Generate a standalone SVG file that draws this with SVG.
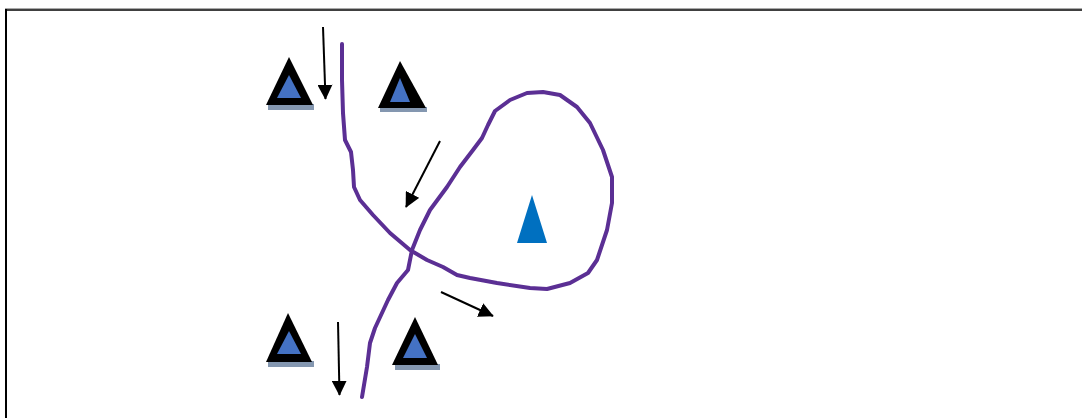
<svg xmlns="http://www.w3.org/2000/svg" width="1082" height="418" viewBox="0 0 1082 418">
<style>
.outer{fill:#000}
.inner{fill:#4472C4}
.shadow{fill:#8497B0}
.arrow{stroke:#000;stroke-width:2;fill:none}
.route{stroke:#5B2F94;stroke-width:4;fill:none;stroke-linecap:round;stroke-linejoin:round}
</style>
<defs>
<marker id="ah" viewBox="0 0 10 10" refX="9.5" refY="5" markerWidth="15" markerHeight="15" markerUnits="userSpaceOnUse" orient="auto">
<path d="M0,0 L10,5 L0,10 Z" fill="#000"/>
</marker>
</defs>
<rect width="1082" height="418" fill="#fff"/>
<g id="frame">
<line x1="5" y1="8.5" x2="1082" y2="8.5" stroke="#aaa" stroke-width="1"/>
<line x1="5" y1="10" x2="1082" y2="10" stroke="#000" stroke-width="1.6"/>
<line x1="6" y1="9" x2="6" y2="418" stroke="#000" stroke-width="2"/>
</g>
<g id="tri-top-left">
<rect class="shadow" x="268" y="104" width="46" height="6"/>
<polygon class="outer" points="289,57 266,105 313,105"/>
<polygon class="inner" points="289,75 277,98 301,98"/>
</g>
<g id="tri-top-right">
<rect class="shadow" x="380" y="107" width="47" height="5"/>
<polygon class="outer" points="400,61 378,108 426,108"/>
<polygon class="inner" points="400,78 390,102 410,102"/>
</g>
<g id="tri-bottom-left">
<rect class="shadow" x="268" y="361" width="46" height="6"/>
<polygon class="outer" points="288,313 266,362 312,362"/>
<polygon class="inner" points="289,331 277,354 301,354"/>
</g>
<g id="tri-bottom-right">
<rect class="shadow" x="395" y="364" width="45" height="6"/>
<polygon class="outer" points="415,317 392,365 438,365"/>
<polygon class="inner" points="415,334 403,358 427,358"/>
</g>
<g id="target">
<polygon points="532,195 517,243 547,243" fill="#0070C0"/>
</g>
<g id="connectors">
<path class="route" d="M342,44 L342,80 L343,113 L345,140 L351,152 L353,170 L354,187 L360,200 L373,215 L390,233 L410,250 L427,260 L443,267 L457,275 L470,278 L497,283 L530,288 L547,289 L570,283 L588,273 L597,260 L607,230 L612,203 L612,177 L603,150 L590,123 L577,107 L560,95 L543,92 L527,93 L510,100 L495,111 L488,125 L482,138 L473,150 L460,167 L447,187 L430,210 L420,230 L412,250 L408,270 L397,283 L388,300 L375,328 L370,343 L367,367 L362,397"/>
<line class="arrow" x1="323" y1="27" x2="325.5" y2="99" marker-end="url(#ah)"/>
<line class="arrow" x1="440" y1="141" x2="406" y2="207" marker-end="url(#ah)"/>
<line class="arrow" x1="441" y1="292" x2="493" y2="316" marker-end="url(#ah)"/>
<line class="arrow" x1="338" y1="322" x2="339.5" y2="395" marker-end="url(#ah)"/>
</g>
</svg>
